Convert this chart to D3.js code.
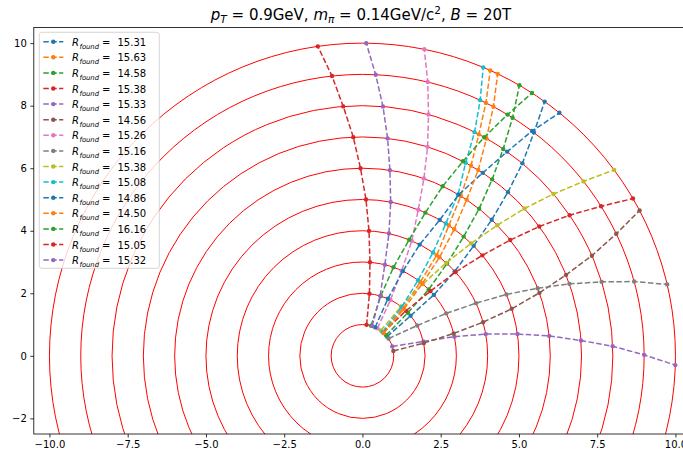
<!DOCTYPE html>
<html>
<head>
<meta charset="utf-8">
<script src="https://cdn.jsdelivr.net/npm/d3@7"></script>
<style>
  html, body { margin: 0; padding: 0; background: #fff; }
  svg { display: block; font-family: "DejaVu Sans", sans-serif; }
</style>
</head>
<body>
<svg id="chart" width="683" height="454"></svg>
<script>
// ---- data ----
const detectorRadii = [1, 2, 3, 4, 5, 6, 7, 8, 9, 10];
// hit angle (degrees) of each track on detector layers r = 1..10
const trackAngles = [
  [38.0, 39.8, 40.5, 42.5, 44.7, 46.5, 48.4, 50.3, 52.5, 54.4],
  [48.5, 49.6, 52.0, 53.6, 56.5, 58.4, 60.3, 62.3, 64.0, 65.9],
  [41.0, 43.5, 45.1, 47.5, 49.7, 51.6, 53.7, 55.8, 57.8, 59.9],
  [48.6, 46.0, 43.6, 42.0, 40.0, 38.1, 36.2, 34.2, 32.1, 30.2],
  [17.5, 13.3, 11.8, 10.0, 8.0, 6.1, 4.0, 2.2, 0.2, -1.7],
  [9.0, 11.7, 13.8, 15.6, 17.5, 19.6, 21.7, 23.6, 25.7, 27.7],
  [61.5, 63.4, 65.3, 66.8, 69.1, 70.9, 72.7, 74.7, 76.6, 78.6],
  [33.5, 29.0, 26.9, 24.9, 23.1, 21.1, 19.2, 17.2, 15.3, 13.2],
  [54.0, 52.0, 50.0, 48.0, 46.0, 44.1, 42.3, 40.3, 38.3, 36.5],
  [50.0, 51.2, 53.7, 55.7, 57.8, 59.4, 61.9, 63.4, 65.3, 67.3],
  [66.0, 66.0, 64.5, 62.8, 60.4, 59.2, 56.7, 54.7, 53.0, 51.0],
  [47.0, 48.5, 50.4, 52.0, 54.1, 56.3, 58.1, 60.3, 62.3, 64.4],
  [74.0, 73.0, 70.7, 68.1, 66.3, 64.7, 62.7, 60.9, 59.0, 57.2],
  [82.4, 83.6, 85.4, 87.0, 88.7, 90.6, 92.4, 94.4, 96.2, 98.2],
  [72.0, 73.6, 76.2, 77.8, 79.6, 81.6, 83.4, 85.3, 87.3, 89.3]
];
const rFound = ["15.31", "15.63", "14.58", "15.38", "15.33", "14.56", "15.26", "15.16",
                "15.38", "15.08", "14.86", "14.50", "16.16", "15.05", "15.32"];
const xTicks = [-10, -7.5, -5, -2.5, 0, 2.5, 5, 7.5, 10];
const yTicks = [-2, 0, 2, 4, 6, 8, 10];
const palette = ["#1f77b4", "#ff7f0e", "#2ca02c", "#d62728", "#9467bd",
                 "#8c564b", "#e377c2", "#7f7f7f", "#bcbd22", "#17becf"];

// ---- layout ----
const svg = d3.select("#chart");
const axL = 33.8, axR = 691.1, axT = 27.5, axB = 434;
const x = d3.scaleLinear().domain([-10.5, 10.5]).range([axL, axR]);
const y = d3.scaleLinear().domain([-2.5, 10.5]).range([axB, axT]);

svg.append("defs").append("clipPath").attr("id", "clip")
  .append("rect").attr("x", axL).attr("y", axT)
  .attr("width", axR - axL).attr("height", axB - axT);

const plot = svg.append("g").attr("clip-path", "url(#clip)");

// detector layers
plot.selectAll("ellipse.layer").data(detectorRadii).enter().append("ellipse")
  .attr("class", "layer")
  .attr("cx", x(0)).attr("cy", y(0))
  .attr("rx", d => x(d) - x(0))
  .attr("ry", d => y(0) - y(d))
  .attr("fill", "none").attr("stroke", "#ff0000").attr("stroke-width", 1);

// tracks
const tracks = trackAngles.map((angles, i) => ({
  color: palette[i % palette.length],
  pts: angles.map((a, j) => {
    const r = detectorRadii[j], t = a * Math.PI / 180;
    return [r * Math.cos(t), r * Math.sin(t)];
  })
}));
const line = d3.line().x(d => x(d[0])).y(d => y(d[1]));

tracks.forEach(tr => {
  const g = plot.append("g");
  g.append("path").datum(tr.pts).attr("d", line)
    .attr("fill", "none").attr("stroke", tr.color)
    .attr("stroke-width", 1.5).attr("stroke-dasharray", "5.5,2.4");
  g.selectAll("circle").data(tr.pts).enter().append("circle")
    .attr("cx", d => x(d[0])).attr("cy", d => y(d[1]))
    .attr("r", 2.2).attr("fill", tr.color);
});

// spines
const sp = svg.append("g").attr("stroke", "#000").attr("stroke-width", 0.8).attr("fill", "none");
sp.append("rect").attr("x", axL).attr("y", axT).attr("width", axR - axL).attr("height", axB - axT);

// axes
const fmtMinus = s => s.replace("-", "\u2212");
const xAxis = d3.axisBottom(x).tickValues(xTicks).tickSize(3.5).tickPadding(3.5)
  .tickFormat(d => fmtMinus(d3.format(".1f")(d)));
const yAxis = d3.axisLeft(y).tickValues(yTicks).tickSize(3.5).tickPadding(3.5)
  .tickFormat(d => fmtMinus(d3.format("d")(d)));
const gx = svg.append("g").attr("transform", `translate(0,${axB})`).call(xAxis);
const gy = svg.append("g").attr("transform", `translate(${axL},0)`).call(yAxis);
[gx, gy].forEach(g => {
  g.select(".domain").remove();
  g.selectAll("line").attr("stroke", "#000").attr("stroke-width", 0.8);
  g.selectAll("text").attr("font-size", 10).attr("fill", "#000")
    .attr("font-family", "DejaVu Sans, sans-serif");
});

// title
const title = svg.append("text").attr("x", 361).attr("y", 19.5)
  .attr("text-anchor", "middle").attr("font-size", 15).attr("fill", "#000")
  .attr("xml:space", "preserve");
title.append("tspan").attr("font-style", "italic").text("p");
title.append("tspan").attr("font-style", "italic").attr("font-size", 10.5).attr("dy", 3).text("T");
title.append("tspan").attr("dy", -3).text(" = 0.9GeV, ");
title.append("tspan").attr("font-style", "italic").text("m");
title.append("tspan").attr("font-style", "italic").attr("font-size", 10.5).attr("dy", 3).text("π");
title.append("tspan").attr("dy", -3).text(" = 0.14GeV/c");
title.append("tspan").attr("font-size", 10.5).attr("dy", -6).text("2");
title.append("tspan").attr("dy", 6).text(", ");
title.append("tspan").attr("font-style", "italic").text("B");
title.append("tspan").text(" = 20T");

// legend
const lgX = 39.3, lgY = 32.3, rowH = 15.6, firstRow = 41.7;
const legend = svg.append("g");
legend.append("rect").attr("x", lgX).attr("y", lgY).attr("width", 120).attr("height", 236)
  .attr("rx", 2.5).attr("fill", "#fff").attr("fill-opacity", 0.8)
  .attr("stroke", "#cccccc").attr("stroke-width", 0.8);
rFound.forEach((v, i) => {
  const cy = firstRow + i * rowH;
  const c = palette[i % palette.length];
  legend.append("line").attr("x1", 43.3).attr("x2", 63.3).attr("y1", cy).attr("y2", cy)
    .attr("stroke", c).attr("stroke-width", 1.5).attr("stroke-dasharray", "5.5,2.4");
  legend.append("circle").attr("cx", 53.3).attr("cy", cy).attr("r", 2.2).attr("fill", c);
  const t = legend.append("text").attr("y", cy + 4).attr("font-size", 10).attr("fill", "#000");
  t.append("tspan").attr("x", 72).attr("font-style", "italic").text("R");
  t.append("tspan").attr("x", 79.5).attr("font-style", "italic").attr("font-size", 6.8).attr("dy", 3).text("found");
  t.append("tspan").attr("x", 102).attr("dy", -3).text("=");
  t.append("tspan").attr("x", 117.5).text(v);
});
</script>
</body>
</html>
